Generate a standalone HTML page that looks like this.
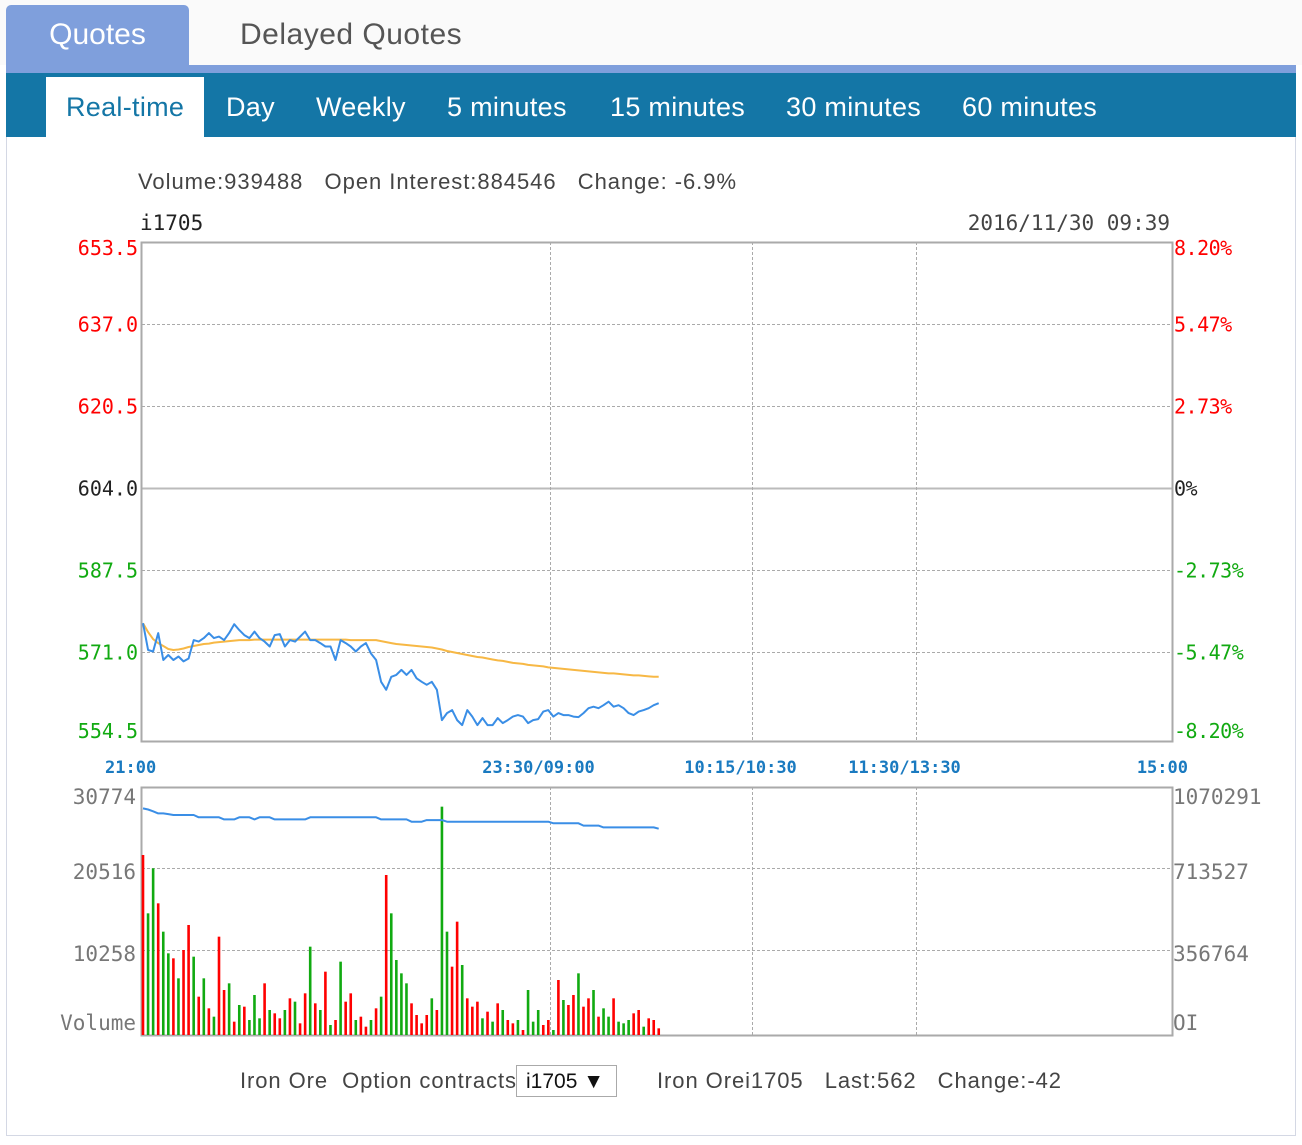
<!DOCTYPE html>
<html><head><meta charset="utf-8"><style>
body{margin:0;width:1302px;height:1145px;background:#fff;position:relative;overflow:hidden;font-family:"Liberation Sans",sans-serif}
.tabtop{position:absolute;top:0;left:0;width:1302px;height:65px;background:#fafafa}
.t1{position:absolute;left:6px;top:5px;width:183px;height:60px;background:#7f9fdc;border-radius:5px 5px 0 0;color:#fff;font-size:30px;line-height:60px;text-align:center}
.t2{position:absolute;left:240px;top:5px;height:60px;color:#555;font-size:30px;line-height:60px;letter-spacing:0.5px}
.strip{position:absolute;left:6px;top:65px;width:1290px;height:8px;background:#7f9fdc}
.nav{position:absolute;left:6px;top:73px;width:1290px;height:64px;background:#1476a6}
.nav span{position:absolute;top:4px;height:60px;line-height:60px;color:#fff;font-size:27px;letter-spacing:0.3px}
.nav .act{background:#fff;color:#1476a6;padding:0 20px;left:40px}
.frame{position:absolute;left:6px;top:137px;width:1288px;height:998px;border:1px solid #d4d8e4;border-top:none}
</style></head><body>
<div class="tabtop"></div>
<div class="t1">Quotes</div>
<div class="t2">Delayed Quotes</div>
<div class="strip"></div>
<div class="nav">
<span class="act">Real-time</span>
<span style="left:220px">Day</span>
<span style="left:310px">Weekly</span>
<span style="left:441px">5 minutes</span>
<span style="left:604px">15 minutes</span>
<span style="left:780px">30 minutes</span>
<span style="left:956px">60 minutes</span>
</div>
<div class="frame"></div>
<svg id="chart" width="1302" height="1145" style="position:absolute;left:0;top:0">
<text x="138" y="189" font-size="22" fill="#444" font-family="Liberation Sans,sans-serif" textLength="598" lengthAdjust="spacing" xml:space="preserve">Volume:939488   Open Interest:884546   Change: -6.9%</text>
<text x="140" y="230" font-size="21" fill="#222" font-family="DejaVu Sans Mono,monospace">i1705</text>
<text x="1170" y="230" font-size="21" fill="#444" text-anchor="end" font-family="DejaVu Sans Mono,monospace">2016/11/30 09:39</text>
<g id="grid"></g><g id="marks"></g><g id="labels"></g>
<text x="240" y="1088" font-size="22" fill="#444" textLength="276" lengthAdjust="spacing" xml:space="preserve">Iron Ore  Option contracts</text>
<rect x="516.5" y="1065.5" width="100" height="31" fill="#fff" stroke="#aaa"/>
<text x="526" y="1088" font-size="21" fill="#111">i1705 ▼</text>
<text x="657" y="1088" font-size="22" fill="#444" textLength="404" lengthAdjust="spacing" xml:space="preserve">Iron Orei1705   Last:562   Change:-42</text>
</svg>
<script>
const priceTicks=[653.5,637.0,620.5,604.0,587.5,571.0,554.5];
const pctTicks=["8.20%","5.47%","2.73%","0%","-2.73%","-5.47%","-8.20%"];
const volTicks=["30774","20516","10258","Volume"];
const oiTicks=["1070291","713527","356764","OI"];
const timeLabels=["21:00","23:30/09:00","10:15/10:30","11:30/13:30","15:00"];
const timeMinutes=[0,150,225,285,375];
const price=[576.8,571.4,571.1,574.8,569.4,570.4,569.4,570.1,569.1,569.7,573.4,573.1,573.8,574.8,573.8,574.1,573.4,574.8,576.6,575.4,574.4,573.8,575.1,573.8,573.1,572.1,574.4,574.6,572.1,573.4,573.1,574.1,575.1,573.4,573.4,572.8,572.1,572.1,569.4,573.4,572.8,572.1,571.1,572.1,572.8,570.7,569.4,565.0,563.4,566.0,566.4,567.4,566.4,567.4,565.7,565.0,564.4,565.0,563.4,557.3,558.7,559.3,557.3,556.3,559.3,558.0,556.3,557.7,556.3,556.3,557.7,556.7,557.3,558.0,558.3,558.0,556.7,557.3,557.5,559.0,559.3,558.0,558.7,558.3,558.3,558.0,557.9,558.7,559.7,560.0,559.7,560.3,561.0,560.0,560.3,559.7,558.7,558.3,559.0,559.3,559.7,560.3,560.7];
const avgPrice=[576.8,575.0,573.6,572.8,572.2,571.6,571.4,571.5,571.7,572.0,572.2,572.4,572.6,572.7,572.9,573.0,573.1,573.2,573.3,573.4,573.4,573.4,573.5,573.5,573.5,573.5,573.5,573.5,573.5,573.5,573.5,573.5,573.5,573.5,573.5,573.5,573.5,573.5,573.5,573.5,573.5,573.4,573.4,573.4,573.4,573.4,573.4,573.2,573.0,572.8,572.6,572.5,572.4,572.3,572.2,572.1,572.0,571.9,571.7,571.5,571.2,571.0,570.8,570.6,570.4,570.2,570.0,569.9,569.7,569.5,569.3,569.2,569.0,568.8,568.7,568.6,568.4,568.3,568.2,568.1,567.9,567.8,567.7,567.6,567.5,567.4,567.3,567.2,567.1,567.0,566.9,566.8,566.7,566.7,566.6,566.5,566.4,566.3,566.3,566.2,566.1,566.0,566.0];
const volume=[22143,14845,20475,16096,12552,9841,9216,6714,10258,13386,9424,4420,6714,2961,1918,11926,5254,6088,1293,3378,3169,1501,4629,1710,6088,2752,2335,1710,2752,4212,3795,1084,4837,10675,3586,2752,7548,876,1501,8799,3795,4837,1501,1918,667,1501,2961,4420,19641,14845,9007,7339,6088,3586,2127,1084,2127,4212,2752,28189,12552,8173,13803,8382,4212,3169,3795,1710,2544,1293,3586,2752,1501,1084,1501,250,5254,1293,2752,876,1501,250,6505,4003,3378,4629,7339,3169,4212,5254,1918,2961,1918,4212,1293,1084,1501,2335,2752,667,1710,1501,459];
const volUp="rggrggrgrrgrgrgrrgrgrgggrgrrgrgrrgrgrgrgrrgrrgrgrggggrrrrgrggrrgrrrgrgrgrrgrgggrrgrgrrgrrgrggrgggrrgrrrrgrrrr";
const oi=[973000,968000,960000,951000,951000,948000,944000,944000,944000,944000,944000,934000,934000,934000,934000,934000,925000,925000,925000,934000,934000,934000,925000,934000,934000,934000,925000,925000,925000,925000,925000,925000,925000,934000,934000,934000,934000,934000,934000,934000,934000,934000,934000,934000,934000,934000,934000,925000,925000,925000,925000,925000,925000,915000,915000,915000,922000,922000,922000,922000,915000,915000,915000,915000,915000,915000,915000,915000,915000,915000,915000,915000,915000,915000,915000,915000,915000,915000,915000,915000,915000,908000,908000,908000,908000,908000,908000,898000,898000,898000,898000,890000,890000,890000,890000,890000,890000,890000,890000,890000,890000,890000,884546];

const NS="http://www.w3.org/2000/svg";
const X0=142,X1=1172,PT=242,PB=741,VT=787,VB=1035;
const minutesPerStep=190/(price.length-1);
function xMin(m){
  const px=[142,550,752,916,1172];
  for(let k=0;k<timeMinutes.length-1;k++){ if(m<=timeMinutes[k+1]) return px[k]+(m-timeMinutes[k])/(timeMinutes[k+1]-timeMinutes[k])*(px[k+1]-px[k]); }
  return 1172;
}
function xi(i){return xMin(i*minutesPerStep)+1;}
function yP(v){return 242+(653.5-v)/16.5*82;}
function yV(v){return 1032-v/10258*82;}
function yOI(v){return 1032-v/356764*82;}
function el(tag,attrs,parent){const e=document.createElementNS(NS,tag);for(const k in attrs)e.setAttribute(k,attrs[k]);parent.appendChild(e);return e;}
const G=document.getElementById('grid'),M=document.getElementById('marks'),L=document.getElementById('labels');
priceTicks.forEach((v,k)=>{
  const y=Math.round(yP(v))+0.5;
  if(k>0&&k<priceTicks.length-1){
    const l=el('line',{x1:X0,x2:X1,y1:y,y2:y,stroke:k===3?'#bbb':'#aaa','stroke-width':k===3?2:1,'stroke-dasharray':k===3?'':'3,2'},G);
    
    
  }
  const col=k<3?'#f00':(k===3?'#222':'#1a1');
  const ly=k===0?PT+13:(k===6?PB-3:y+7);
  const t=el('text',{x:138,y:ly,'text-anchor':'end','font-size':20,fill:col,'font-family':'DejaVu Sans Mono,monospace'},L);t.textContent=v.toFixed(1);
  
  
  const t2=el('text',{x:1174,y:ly,'font-size':20,fill:col,'font-family':'DejaVu Sans Mono,monospace','letter-spacing':'-0.5'},L);t2.textContent=pctTicks[k];
  
  
});
[1,2].forEach(k=>{const y=Math.round(VT-1+k*82)+0.5;const l=el('line',{x1:X0,x2:X1,y1:y,y2:y,stroke:'#aaa','stroke-dasharray':'3,2'},G);
  
  });
volTicks.forEach((s,k)=>{const y=k===3?1030:VT+17+k*82-(k?7:0);
  const t=el('text',{x:136,y:y,'text-anchor':'end','font-size':21,fill:'#777','font-family':'DejaVu Sans Mono,monospace'},L);t.textContent=s;
  
  
  const t2=el('text',{x:1173,y:y,'font-size':21,fill:'#777','font-family':'DejaVu Sans Mono,monospace'},L);t2.textContent=oiTicks[k];
  
  });
timeMinutes.forEach((m,k)=>{
  const x=Math.round(xMin(m))+0.5;
  if(k>0&&k<timeMinutes.length-1){
    [[PT,PB],[VT,VB]].forEach(r=>{const l=el('line',{x1:x,x2:x,y1:r[0],y2:r[1],stroke:'#aaa','stroke-dasharray':'3,2'},G);
      
      });
  }
  const anchor=k===0?'start':(k===timeMinutes.length-1?'end':'middle');
  const tx=k===0?105:(k===timeMinutes.length-1?1188:x-12);
  const t=el('text',{x:tx,y:773,'text-anchor':anchor,'font-size':17,fill:'#1a7ac0','font-family':'DejaVu Sans Mono,monospace','font-weight':'bold'},L);t.textContent=timeLabels[k];
  
  
});
[[PT,PB],[VT,VB]].forEach((r,k)=>{const f=el('rect',{x:X0-0.5,y:r[0]+0.5,width:X1-X0+1,height:r[1]-r[0],fill:'none',stroke:'#aaa','stroke-width':2},G);
  
  });
volume.forEach((v,i)=>{const x=xi(i);const y=yV(v);
  const b=el('rect',{x:x-1.3,y:y,width:2.6,height:VB-y,fill:volUp[i]==='r'?'#f00':'#1a1'},M);
  
  });
function line(arr,yf,col,name){const d=arr.map((v,i)=>(i?'L':'M')+xi(i).toFixed(1)+','+yf(v).toFixed(1)).join('');
  const p=el('path',{d:d,fill:'none',stroke:col,'stroke-width':2,'stroke-linejoin':'round'},M);
  
  }
line(oi,yOI,'#3a8ee6','open-interest-line');
line(avgPrice,yP,'#f7b845','average-price-line');
line(price,yP,'#3a8ee6','price-line');
</script>
</body></html>
